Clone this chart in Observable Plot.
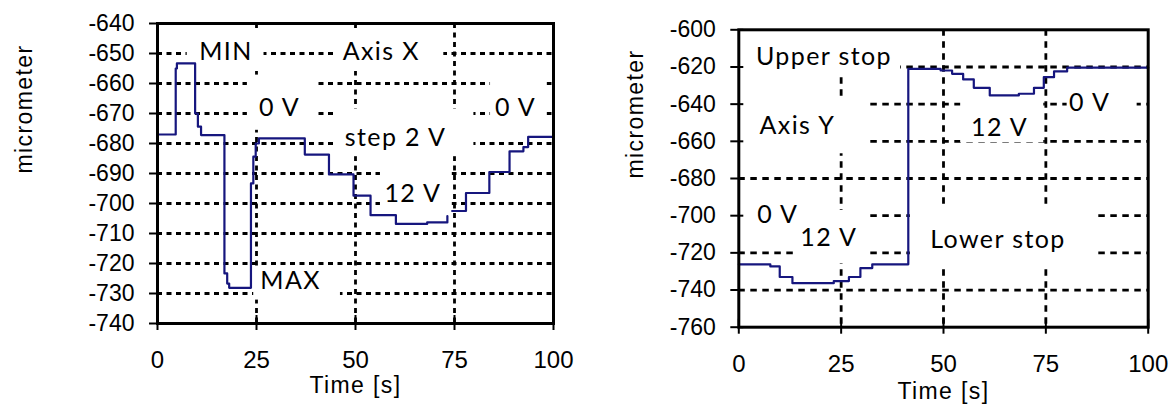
<!DOCTYPE html>
<html>
<head>
<meta charset="utf-8">
<script src="https://cdn.jsdelivr.net/npm/d3@7"></script>
<script src="https://cdn.jsdelivr.net/npm/@observablehq/plot@0.6"></script>
<style>
  html, body { margin: 0; padding: 0; background: #fff; }
  #wrap { display: flex; width: 1173px; height: 404px; overflow: hidden; }
  #wrap svg { display: block; }
  g[aria-label="text"] text { letter-spacing: 1.4px; }
</style>
</head>
<body>
<div id="wrap"></div>
<script>
// ---------- Left chart: Axis X ----------
const L_time = [0, 4.6, 4.9, 9.5, 10.2, 11.0, 16.9, 17.6, 18.1, 23.6, 24.2, 24.8, 25.6, 37.2, 43.3, 49.5, 53.8, 60.2, 68.1, 73.2, 73.4, 74.4, 77.9, 83.8, 88.9, 92.4, 93.6, 100];
const L_um   = [-677, -655, -653.3, -670, -674.4, -677.2, -723.3, -726.7, -728.1, -693.3, -684.4, -680, -678.3, -683.7, -690.3, -697.4, -703.9, -706.8, -706.3, -704.2, null, -702.5, -696.5, -689.5, -682.6, -681.2, -677.8, -677.8];
const L_yTicks = [-640, -650, -660, -670, -680, -690, -700, -710, -720, -730, -740];
const L_yGrid = [-650, -660, -670, -680, -690, -700, -710, -720, -730];
const xTicks = [0, 25, 50, 75, 100];
const xGrid = [25, 50, 75];
const L_labels = ["MIN", "Axis X", "0 V", "0 V", "step 2 V", "12 V", "MAX"];
const L_labelX = [17.3, 56.5, 30.8, 90.4, 60.1, 64.5, 33.6];
const L_labelY = [-649.6, -649.6, -668, -668, -678.3, -696.9, -725.8];
// label boxes (white background of the text boxes), data units
const L_boxX1 = [7.5, 44.5, 22.7, 84.1, 44.5, 56.3, 24.3];
const L_boxX2 = [26.9, 72.3, 39.9, 98.4, 79.9, 74.4, 46.2];
const L_boxY1 = [-642.2, -642.2, -657.2, -657.0, -668.6, -687.0, -721.1];
const L_boxY2 = [-656.0, -656.0, -675.6, -675.0, -684.4, -702.5, -732.2];

// ---------- Right chart: Axis Y ----------
const R_time = [0, 7.7, 10.0, 13.1, 23.2, 26.9, 29.7, 32.6, 41.4, 49.3, 52.1, 54.8, 57.4, 61.3, 68.4, 72.1, 74.5, 77.0, 80.2, 100];
const R_um   = [-726.2, -727.3, -733, -736.3, -735.2, -733, -728.2, -726.2, -621, -621.9, -623.7, -626.7, -631.2, -635.3, -634.4, -631.2, -625.5, -622.4, -620.4, -620.4];
const R_yTicks = [-600, -620, -640, -660, -680, -700, -720, -740, -760];
const R_yGrid = [-620, -640, -660, -680, -700, -720, -740];
const R_labels = ["Upper stop", "Axis Y", "0 V", "12 V", "Lower stop", "12 V", "0 V"];
const R_labelX = [20.8, 14.3, 9.5, 22.0, 63.3, 63.7, 85.7];
const R_labelY = [-614.7, -651.8, -699.4, -712.1, -713.0, -652.7, -639.5];
const R_boxX1 = [0, 0, 0, 13.4, 41.9, 54.2, 80.2];
const R_boxX2 = [39.5, 31.4, 15.1, 31.4, 87.5, 74.5, 97.3];
const R_boxY1 = [-600.4, -636.3, -695.4, -697.2, -695.4, -638.0, -630.9];
const R_boxY2 = [-625.5, -666.7, -715.1, -725.9, -727.7, -660.8, -648.8];

const axisFont = "'Liberation Sans', Arial, sans-serif";
const annFont = "Lato, 'Open Sans', sans-serif";
const lineColor = "#16167e";

function zipPts(t, v) { return t.map((x, i) => ({x, y: v[i]})); }
function zipLabels(txt, xs, ys) { return txt.map((s, i) => ({text: s, x: xs[i], y: ys[i]})); }
function zipBoxes(a, b, c, d) { return a.map((x1, i) => ({x1, x2: b[i], y1: c[i], y2: d[i]})); }

function chart(o) {
  return Plot.plot({
    width: o.width, height: 404,
    marginLeft: o.ml, marginRight: o.mr, marginTop: o.mt, marginBottom: o.mb,
    x: {domain: [0, 100]},
    y: {domain: o.yDomain},
    style: {fontFamily: axisFont, background: "white", color: "black", overflow: "visible"},
    marks: [
      Plot.gridY(o.yGrid, {stroke: "black", strokeOpacity: 1, strokeWidth: 2.8, strokeDasharray: o.dash}),
      Plot.gridX(xGrid, {stroke: "black", strokeOpacity: 1, strokeWidth: 2.8, strokeDasharray: o.dash}),
      Plot.rect(o.boxes, {x1: "x1", x2: "x2", y1: "y1", y2: "y2", fill: "white"}),
      Plot.line(o.pts, {x: "x", y: "y", curve: "step-after", stroke: lineColor, strokeWidth: 2.2}),
      Plot.text(o.labels, {x: "x", y: "y", text: "text", fontSize: 25, fontFamily: annFont, fill: "black", lineAnchor: "middle"}),
      Plot.axisY(o.yTicks, {anchor: "left", tickSize: 13, dx: 5, strokeWidth: 2, tickFormat: () => "", label: null}),
      Plot.axisY(o.yTicks, {anchor: "left", tickSize: 0, tickPadding: 23, fontSize: 23, tickFormat: d => String(d).replace("\u2212", "-"), label: null}),
      Plot.axisX(xTicks, {anchor: "bottom", tickSize: 15, dy: -8, strokeWidth: 2, tickFormat: () => "", label: null}),
      Plot.axisX(xTicks, {anchor: "bottom", tickSize: 0, tickPadding: o.xPad, fontSize: 24, label: null}),
      Plot.text(["micrometer"], {frameAnchor: "left", dx: -o.yLabOff, rotate: -90, fontSize: 23, lineAnchor: "middle"}),
      Plot.text(["Time [s]"], {frameAnchor: "bottom", dy: o.xLabOff, fontSize: 23, lineAnchor: "middle"}),
      Plot.frame({stroke: "black", strokeWidth: 3})
    ]
  });
}

const left = chart({
  width: 585, ml: 157, mr: 32, mt: 23, mb: 81,
  yDomain: [-740, -640], yTicks: L_yTicks, yGrid: L_yGrid, dash: "5,4.5",
  boxes: zipBoxes(L_boxX1, L_boxX2, L_boxY1, L_boxY2),
  pts: zipPts(L_time, L_um),
  labels: zipLabels(L_labels, L_labelX, L_labelY),
  xPad: 27, yLabOff: 133, xLabOff: 62
});
const right = chart({
  width: 588, ml: 153.3, mr: 25.3, mt: 29.3, mb: 77.3,
  yDomain: [-760, -600], yTicks: R_yTicks, yGrid: R_yGrid, dash: "6.5,5.5",
  boxes: zipBoxes(R_boxX1, R_boxX2, R_boxY1, R_boxY2),
  pts: zipPts(R_time, R_um),
  labels: zipLabels(R_labels, R_labelX, R_labelY),
  xPad: 28, yLabOff: 103, xLabOff: 64.5
});
document.getElementById("wrap").append(left, right);
</script>
</body>
</html>
